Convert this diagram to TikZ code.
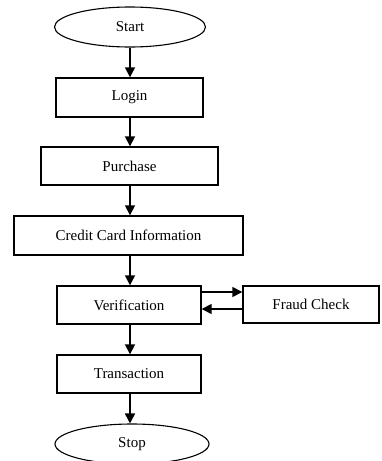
\documentclass[tikz,border=0pt]{standalone}
\usepackage{fontspec}
\setmainfont{Liberation Serif}
\usetikzlibrary{arrows.meta,shapes.geometric}
\begin{document}
\begin{tikzpicture}[x=1pt,y=-1pt,
  box/.style={draw,line width=1.4pt,rectangle,inner sep=0pt,font=\fontsize{15}{17}\selectfont},
  oval/.style={draw,line width=1.1pt,ellipse,inner sep=0pt,font=\fontsize{15}{17}\selectfont},
  arr/.style={line width=1.7pt,-{Triangle[length=10pt,width=10pt]}}]
\useasboundingbox (0,0) rectangle (381,461);
\node[oval,minimum width=151pt,minimum height=40pt] (start) at (130,27) {Start};
\node[box,minimum width=147pt,minimum height=39pt] (login) at (129.5,97.5) {Login};
\node[box,minimum width=177pt,minimum height=38pt] (purchase) at (129.5,166) {Purchase};
\node[box,minimum width=229pt,minimum height=39pt] (cc) at (128.5,235.5) {Credit Card Information};
\node[box,minimum width=144pt,minimum height=38pt] (verif) at (129,305) {Verification};
\node[box,minimum width=136pt,minimum height=37pt] (fraud) at (311,304.5) {Fraud Check};
\node[box,minimum width=144pt,minimum height=38pt] (trans) at (129,374) {Transaction};
\node[oval,minimum width=154pt,minimum height=40pt] (stop) at (132,444) {Stop};
\draw[arr] (start.south -| 130,0) -- (login.north -| 130,0);
\draw[arr] (login.south -| 130,0) -- (purchase.north -| 130,0);
\draw[arr] (purchase.south -| 130,0) -- (cc.north -| 130,0);
\draw[arr] (cc.south -| 130,0) -- (verif.north -| 130,0);
\draw[arr] (verif.south -| 130,0) -- (trans.north -| 130,0);
\draw[arr] (trans.south -| 130,0) -- (stop.north -| 130,0);
\draw[arr] (verif.east |- 0,292) -- (fraud.west |- 0,292);
\draw[arr] (fraud.west |- 0,309) -- (verif.east |- 0,309);
\end{tikzpicture}
\end{document}
